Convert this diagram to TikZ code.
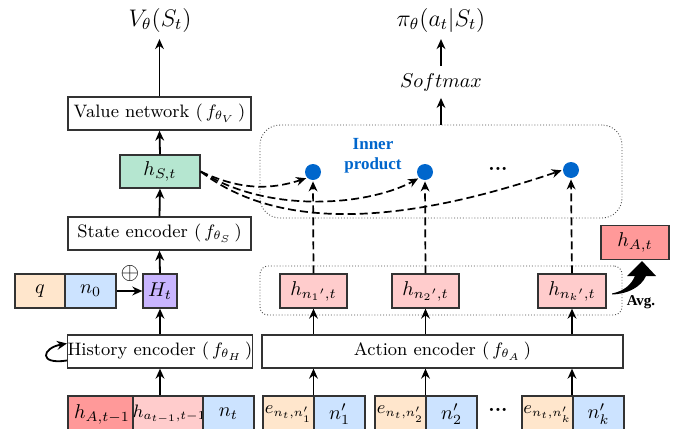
\documentclass[tikz,border=0pt]{standalone}
\usepackage{fontspec}
\newfontfamily\tnr{Liberation Serif}
\usetikzlibrary{arrows.meta,calc}
\definecolor{gbox}{HTML}{B5E6D0}
\definecolor{pbox}{HTML}{C9B5FF}
\definecolor{obox}{HTML}{FFE6CC}
\definecolor{bbox}{HTML}{CCE3FF}
\definecolor{rbox}{HTML}{FFCCCC}
\definecolor{dbox}{HTML}{FF9999}
\definecolor{dotblue}{HTML}{0066CC}
\tikzset{
  box/.style={draw=black!80, line width=0.65pt, inner sep=0pt, minimum height=16.5pt},
  wide/.style={box, font=\fontsize{9}{11}\selectfont},
  sq/.style={box, minimum height=17pt},
  bot/.style={box, minimum height=18pt},
  arr/.style={line width=0.9pt, -{Stealth[length=5pt,width=4.4pt]}},
  darr/.style={line width=0.85pt, dash pattern=on 4pt off 2pt, -{Stealth[length=5pt,width=4.4pt]}, shorten >=0.5pt},
  dotbox/.style={draw=black!70, line width=0.45pt, densely dotted, inner sep=0pt},
  ball/.style={circle, fill=dotblue, minimum size=8pt, inner sep=0pt},
  big/.style={font=\fontsize{12}{14}\selectfont},
  small/.style={font=\fontsize{9}{11}\selectfont},
}
\begin{document}
\begin{tikzpicture}[x=0.5pt,y=-0.5pt, font=\fontsize{10}{12}\selectfont]
\useasboundingbox (0,0) rectangle (676,429);
% left column
\node[wide, minimum width=91.5pt] (valnet) at (159.5,113.5) {Value network $(\,f_{\theta_V}\,)$};
\node[box, fill=gbox, minimum width=40pt] (hS) at (160,171.5) {$h_{S,t}$};
\node[wide, minimum width=91.5pt] (stenc) at (159.5,233.5) {State encoder $(\,f_{\theta_S}\,)$};
\node[sq, fill=obox, minimum width=25pt] (q) at (40,291) {$q$};
\node[sq, fill=bbox, minimum width=25.5pt] (n0) at (90.5,291) {$n_0$};
\node[sq, fill=pbox, minimum width=17pt] (Ht) at (160,291) {$H_t$};
\node[font=\fontsize{12}{14}\selectfont] (oplus) at (130,273) {$\oplus$};
\node[wide, minimum width=92pt] (hist) at (160,351.5) {History encoder $(\,f_{\theta_H}\,)$};
\node[bot, fill=dbox, minimum width=34pt] (hA1) at (102,414) {$h_{A,t-1}$};
\node[bot, small, fill=rbox, minimum width=33.5pt] (ha1) at (169.5,414) {$h_{a_{t-1},t-1}$};
\node[bot, fill=bbox, minimum width=25.5pt] (nt) at (228.5,414) {$n_t$};
\node[big] (V) at (160,20) {$V_\theta(S_t)$};
% right column
\node[wide, minimum width=180.5pt] (act) at (442.5,351.5) {Action encoder $(\,f_{\theta_A}\,)$};
\node[dotbox, rounded corners=4pt, minimum width=181pt, minimum height=24.5pt] (lb) at (441,290.5) {};
\node[dotbox, rounded corners=10pt, minimum width=181pt, minimum height=46.5pt] (ub) at (441,171.5) {};
\node[sq, fill=rbox, minimum width=33.5pt] (hn1) at (313.5,291) {$h_{{n_1}',t}$};
\node[sq, fill=rbox, minimum width=33.5pt] (hn2) at (425.5,291) {$h_{{n_2}',t}$};
\node[sq, fill=rbox, minimum width=34pt] (hnk) at (572,291) {$h_{{n_k}',t}$};
\node[sq, fill=dbox, minimum width=34pt] (hAt) at (635,242.5) {$h_{A,t}$};
\node[bot, small, fill=obox, minimum width=25.5pt] (e1) at (288.5,414) {$e_{n_t,n'_1}$};
\node[bot, fill=bbox, minimum width=25.5pt] (m1) at (339.5,414) {$n'_1$};
\node[bot, small, fill=obox, minimum width=25.5pt] (e2) at (400.5,414) {$e_{n_t,n'_2}$};
\node[bot, fill=bbox, minimum width=25.5pt] (m2) at (451.5,414) {$n'_2$};
\node[bot, small, fill=obox, minimum width=25.5pt] (ek) at (547.5,414) {$e_{n_t,n'_k}$};
\node[bot, fill=bbox, minimum width=25.5pt] (mk) at (598.5,414) {$n'_k$};
\node[font=\bfseries] (bdots) at (498,410) {...};
\node[ball] (d1) at (313,172) {};
\node[ball] (d2) at (425,172) {};
\node[ball] (d3) at (571,170) {};
\node[font=\bfseries] (udots) at (498,169) {...};
\node[text=dotblue, font=\tnr\bfseries\fontsize{8.5}{10}\selectfont, align=center] (ip) at (373,156) {Inner\\product};
\node (sm) at (441,82) {$Softmax$};
\node[big] (pi) at (441,20) {$\pi_\theta(a_t|S_t)$};
\node[font=\tnr\bfseries\fontsize{7.5}{9}\selectfont] (avg) at (641,302) {Avg.};
% solid arrows
\draw[arr] (valnet.north) -- (valnet.north |- V.south);
\draw[arr] (hS.north) -- (valnet.south);
\draw[arr] (stenc.north) -- (hS.south);
\draw[arr] (Ht.north) -- (stenc.south);
\draw[arr] (hist.north) -- (Ht.south);
\draw[arr] (n0.east) -- (Ht.west);
\draw[arr] (hist.south |- ha1.north) -- (hist.south);
\draw[arr] ([yshift=-4.5pt]hist.west) .. controls (38,365) and (42,348) .. ([yshift=4pt]hist.west);
\draw[arr] (ub.north) -- (ub.north |- sm.south);
\draw[arr] (sm.north) -- (pi.south);
\foreach \h in {hn1,hn2,hnk}{
  \draw[arr] (\h |- e1.north) -- (\h |- act.south);
  \draw[arr] (\h |- act.north) -- (\h.south);
}
% dashed arrows
\draw[darr] (hn1.north) -- (d1.south);
\draw[darr] (hn2.north) -- (d2.south);
\draw[darr] (hnk.north) -- (d3.south);
\draw[darr] (hS.east) .. controls (240,190) and (270,190) .. (d1.south west);
\draw[darr] (hS.east) .. controls (270,215) and (370,205) .. (d2.south west);
\draw[darr] (hS.east) .. controls (290,240) and (430,215) .. (d3.west);
% Avg arrow
\fill (612,294.5) .. controls (628,294) and (641,287) .. (646,276) -- (656,276) -- (642,261) -- (627,276) -- (635,276) .. controls (631,285) and (624,291) .. (612,293.5) -- cycle;
\end{tikzpicture}
\end{document}
